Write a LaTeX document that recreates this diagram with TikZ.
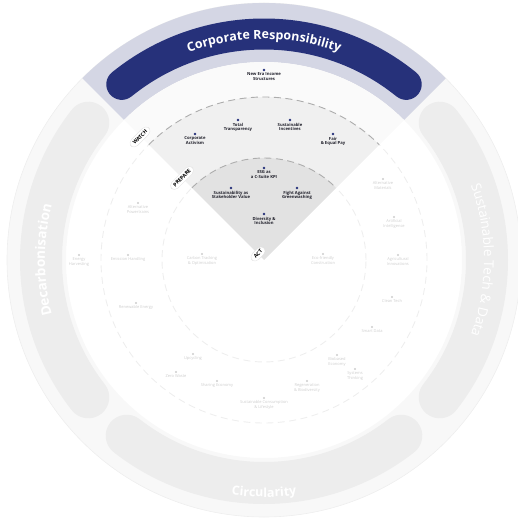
\documentclass[tikz,border=0pt]{standalone}
\usepackage{fontspec}
\setmainfont{Open Sans}
\usetikzlibrary{positioning,decorations.text}
\definecolor{navy}{HTML}{26317A}
\definecolor{lav}{HTML}{D4D6E4}
\definecolor{actgray}{HTML}{E2E2E2}
\definecolor{prepgray}{HTML}{F0F0F0}
\definecolor{watchgray}{HTML}{FAFAFA}
\definecolor{fadeband}{HTML}{EDEDED}
\definecolor{fadering}{HTML}{F8F8F8}
\definecolor{fadeline}{HTML}{EEEEEE}
\definecolor{fadetext}{HTML}{CDCDCD}
\definecolor{itemtext}{HTML}{1F1F2A}

\begin{document}
\begin{tikzpicture}[x=1pt,y=1pt,
    dot/.style={circle,fill=navy,inner sep=0pt,minimum size=2.6pt},
    fdot/.style={circle,fill=fadetext,inner sep=0pt,minimum size=2.2pt},
    item/.style={font=\fontsize{4.2}{4.8}\selectfont\bfseries,text=itemtext,align=center,inner sep=0.4pt},
    fitem/.style={font=\fontsize{4}{4.6}\selectfont,text=fadetext,align=center,inner sep=0.4pt},
    ringtag/.style={fill=white,draw=black!12,line width=0.3pt,rounded corners=4.8pt,rotate=45,font=\fontsize{5.2}{5.2}\selectfont\bfseries,inner xsep=3.6pt,inner ysep=2.4pt},
    band/.style={line width=#1,line cap=round},
    ringsep/.style={dashed,dash pattern=on 7pt off 4.5pt,line width=0.9pt,draw=#1},
    bandtext/.style={decorate,decoration={text along path,text align=center,text color=white,text={#1}}}]
    \useasboundingbox (-264,-259) rectangle (254,260);

    % faded radar
    \fill[fadering,even odd rule] (0,0) circle[radius=257] (0,0) circle[radius=198];
    \draw[fadeline,line width=0.6pt] (0,0) circle[radius=257];
    \foreach \r in {102,163}
        \draw[ringsep=fadeline] (0,0) circle[radius=\r];
    \draw[fadeband,band=42pt] (142:223) arc[start angle=142,end angle=218,radius=223];
    \draw[fadeband,band=42pt] (232:223) arc[start angle=232,end angle=308,radius=223];
    \draw[fadeband,band=42pt] (38:223) arc[start angle=38,end angle=-38,radius=223];
    \path[bandtext={|\fontsize{13.5}{13.5}\selectfont\bfseries|Decarbonisation}]
        (220:219) arc[start angle=220,end angle=140,radius=219];
    \path[bandtext={|\fontsize{13.5}{13.5}\selectfont|Sustainable Tech {\&} Data}]
        (42:220) arc[start angle=42,end angle=-42,radius=220];
    \path[bandtext={|\fontsize{12.5}{12.5}\selectfont\bfseries|Circularity}]
        (230:237) arc[start angle=230,end angle=310,radius=237];

    % highlighted sector
    \fill[lav] (45:198) -- (45:257) arc[start angle=45,end angle=135,radius=257] -- (135:198) arc[start angle=135,end angle=45,radius=198] -- cycle;
    \fill[watchgray] (45:163) -- (45:198) arc[start angle=45,end angle=135,radius=198] -- (135:163) arc[start angle=135,end angle=45,radius=163] -- cycle;
    \fill[prepgray] (45:102) -- (45:163) arc[start angle=45,end angle=135,radius=163] -- (135:102) arc[start angle=135,end angle=45,radius=102] -- cycle;
    \fill[actgray] (0,0) -- (45:102) arc[start angle=45,end angle=135,radius=102] -- cycle;
    \foreach \r in {102,163}
        \draw[ringsep=black!32] (135:\r) arc[start angle=135,end angle=45,radius=\r];
    \draw[navy,band=31pt] (129:226) arc[start angle=129,end angle=51,radius=226];
    \path[bandtext={|\fontsize{12.5}{12.5}\selectfont\bfseries|Corporate Responsibility}]
        (135:221) arc[start angle=135,end angle=45,radius=221];

    % ring tags
    \node[ringtag] (watch) at (-124,123) {WATCH};
    \node[ringtag] (prepare) at (-82,82) {PREPARE};
    \node[ringtag] (act) at (-6,6) {ACT};

    % corporate responsibility topics
    \node[dot] (nei) at (0,190) {};
    \node[item,below=0.8pt of nei] (nei-t) {New Era Income\\Structures};
    \node[dot] (cact) at (-69,126) {};
    \node[item,below=0.8pt of cact] (cact-t) {Corporate\\Activism};
    \node[dot] (tot) at (-26,140) {};
    \node[item,below=0.8pt of tot] (tot-t) {Total\\Transparency};
    \node[dot] (sinc) at (26,140) {};
    \node[item,below=0.8pt of sinc] (sinc-t) {Sustainable\\Incentives};
    \node[dot] (fair) at (69,126) {};
    \node[item,below=0.8pt of fair] (fair-t) {Fair\\\& Equal Pay};
    \node[dot] (esg) at (0,92) {};
    \node[item,below=0.8pt of esg] (esg-t) {ESG as\\a C-Suite KPI};
    \node[dot] (ssv) at (-33,72) {};
    \node[item,below=0.8pt of ssv] (ssv-t) {Sustainability as\\Stakeholder Value};
    \node[dot] (fag) at (33,72) {};
    \node[item,below=0.8pt of fag] (fag-t) {Fight Against\\Greenwashing};
    \node[dot] (div) at (0,46) {};
    \node[item,below=0.8pt of div] (div-t) {Diversity \&\\Inclusion};

    % faded topics
    \node[fdot] (apt) at (-126,57) {};
    \node[fitem,below=0.8pt of apt] (apt-t) {Alternative\\Powertrains};
    \node[fdot] (enh) at (-185,5) {};
    \node[fitem,below=0.8pt of enh] (enh-t) {Energy\\Harvesting};
    \node[fdot] (emh) at (-136,5) {};
    \node[fitem,below=0.8pt of emh] (emh-t) {Emission Handling};
    \node[fdot] (ren) at (-128,-43) {};
    \node[fitem,below=0.8pt of ren] (ren-t) {Renewable Energy};
    \node[fdot] (cto) at (-62,6) {};
    \node[fitem,below=0.8pt of cto] (cto-t) {Carbon Tracking\\\& Optimisation};
    \node[fdot] (efc) at (59,6) {};
    \node[fitem,below=0.8pt of efc] (efc-t) {Eco-friendly\\Construction};
    \node[fdot] (alm) at (119,81) {};
    \node[fitem,below=0.8pt of alm] (alm-t) {Alternative\\Materials};
    \node[fdot] (ai) at (130,43) {};
    \node[fitem,below=0.8pt of ai] (ai-t) {Artificial\\Intelligence};
    \node[fdot] (agi) at (134,5) {};
    \node[fitem,below=0.8pt of agi] (agi-t) {Agricultural\\Innovations};
    \node[fdot] (clt) at (128,-37) {};
    \node[fitem,below=0.8pt of clt] (clt-t) {Clean Tech};
    \node[fdot] (smd) at (108,-67) {};
    \node[fitem,below=0.8pt of smd] (smd-t) {Smart Data};
    \node[fdot] (upc) at (-71,-94) {};
    \node[fitem,below=0.8pt of upc] (upc-t) {Upcycling};
    \node[fdot] (zw) at (-88,-112) {};
    \node[fitem,below=0.8pt of zw] (zw-t) {Zero Waste};
    \node[fdot] (she) at (-47,-121) {};
    \node[fitem,below=0.8pt of she] (she-t) {Sharing Economy};
    \node[fdot] (scl) at (0,-138) {};
    \node[fitem,below=0.8pt of scl] (scl-t) {Sustainable Consumption\\\& Lifestyle};
    \node[fdot] (reb) at (43,-121) {};
    \node[fitem,below=0.8pt of reb] (reb-t) {Regeneration\\\& Biodiversity};
    \node[fdot] (bio) at (73,-95) {};
    \node[fitem,below=0.8pt of bio] (bio-t) {Biobased\\Economy};
    \node[fdot] (syt) at (91,-109) {};
    \node[fitem,below=0.8pt of syt] (syt-t) {Systems\\Thinking};
\end{tikzpicture}
\end{document}
